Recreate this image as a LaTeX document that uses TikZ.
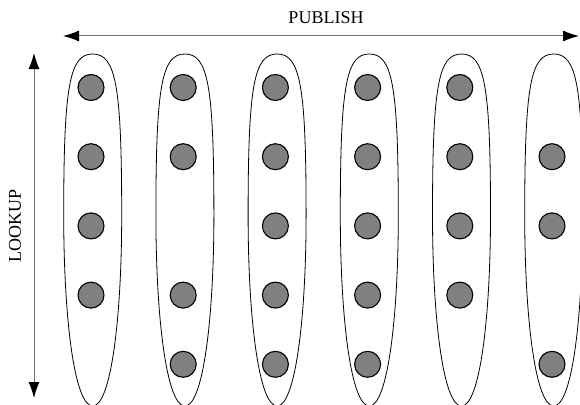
\documentclass[tikz,border=0pt]{standalone}
\usepackage{fontspec}
\setmainfont{Liberation Serif}
\usepackage{tikz}
\usetikzlibrary{
  arrows.meta,
  shapes.geometric,
  positioning
}
\definecolor{peerFill}{HTML}{808080}
\definecolor{axisGray}{HTML}{707070}
\tikzset{
  group/.style={draw, line width=0.8pt},
  peer/.style={
    draw, circle, fill=peerFill, line width=1.1pt, minimum size=26pt, inner sep=0pt
  },
  axisline/.style={
    {Latex[length=16pt, width=11pt, color=black]}-{Latex[length=16pt, width=11pt, color=black]},
    line width=1pt, axisGray
  },
  tag/.style={font=\fontsize{18}{20}\selectfont, inner sep=0pt}
}
% one elongated group outline, drawn round the current origin
\newcommand{\grouppath}{
  (0,54) .. controls (-23,54) and (-29,85) .. (-29,215)
  .. controls (-29,320) and (-18,406) .. (0,406)
  .. controls (18,406) and (29,320) .. (29,215)
  .. controls (29,85) and (23,54) .. cycle
}

\begin{document}
\begin{tikzpicture}[x=1pt, y=-1pt]
  \useasboundingbox (0,0) rectangle (580,404);
  \begin{scope}
    \clip (0,0) rectangle (580,404);
    % columns of peers
    \foreach \c/\rows in {1/{1,2,3,4}, 2/{1,2,4,5}, 3/{1,2,3,4,5},
                          4/{1,2,3,4,5}, 5/{1,2,3,4}, 6/{2,3,5}} {
      \coordinate (grp\c) at ({92.7+92.2*(\c-1)}, 0);
      \draw[group, shift={(grp\c)}] \grouppath;
      \foreach \r in \rows
        \node[peer] (n\c-\r) at ({91+92.2*(\c-1)}, {87.5+69.2*(\r-1)}) {};
    }
  \end{scope}
  % axes
  \coordinate (pubL) at (63,36);
  \coordinate (pubR) at (579,36);
  \coordinate (lookT) at (34,53);
  \coordinate (lookB) at (34,398);
  \draw[axisline] (pubL) -- (pubR);
  \draw[axisline] (lookT) -- (lookB);
  \node[tag] (pub) at (326,18) {PUBLISH};
  \node[tag, rotate=90] (look) at (15,226) {LOOKUP};
\end{tikzpicture}
\end{document}
